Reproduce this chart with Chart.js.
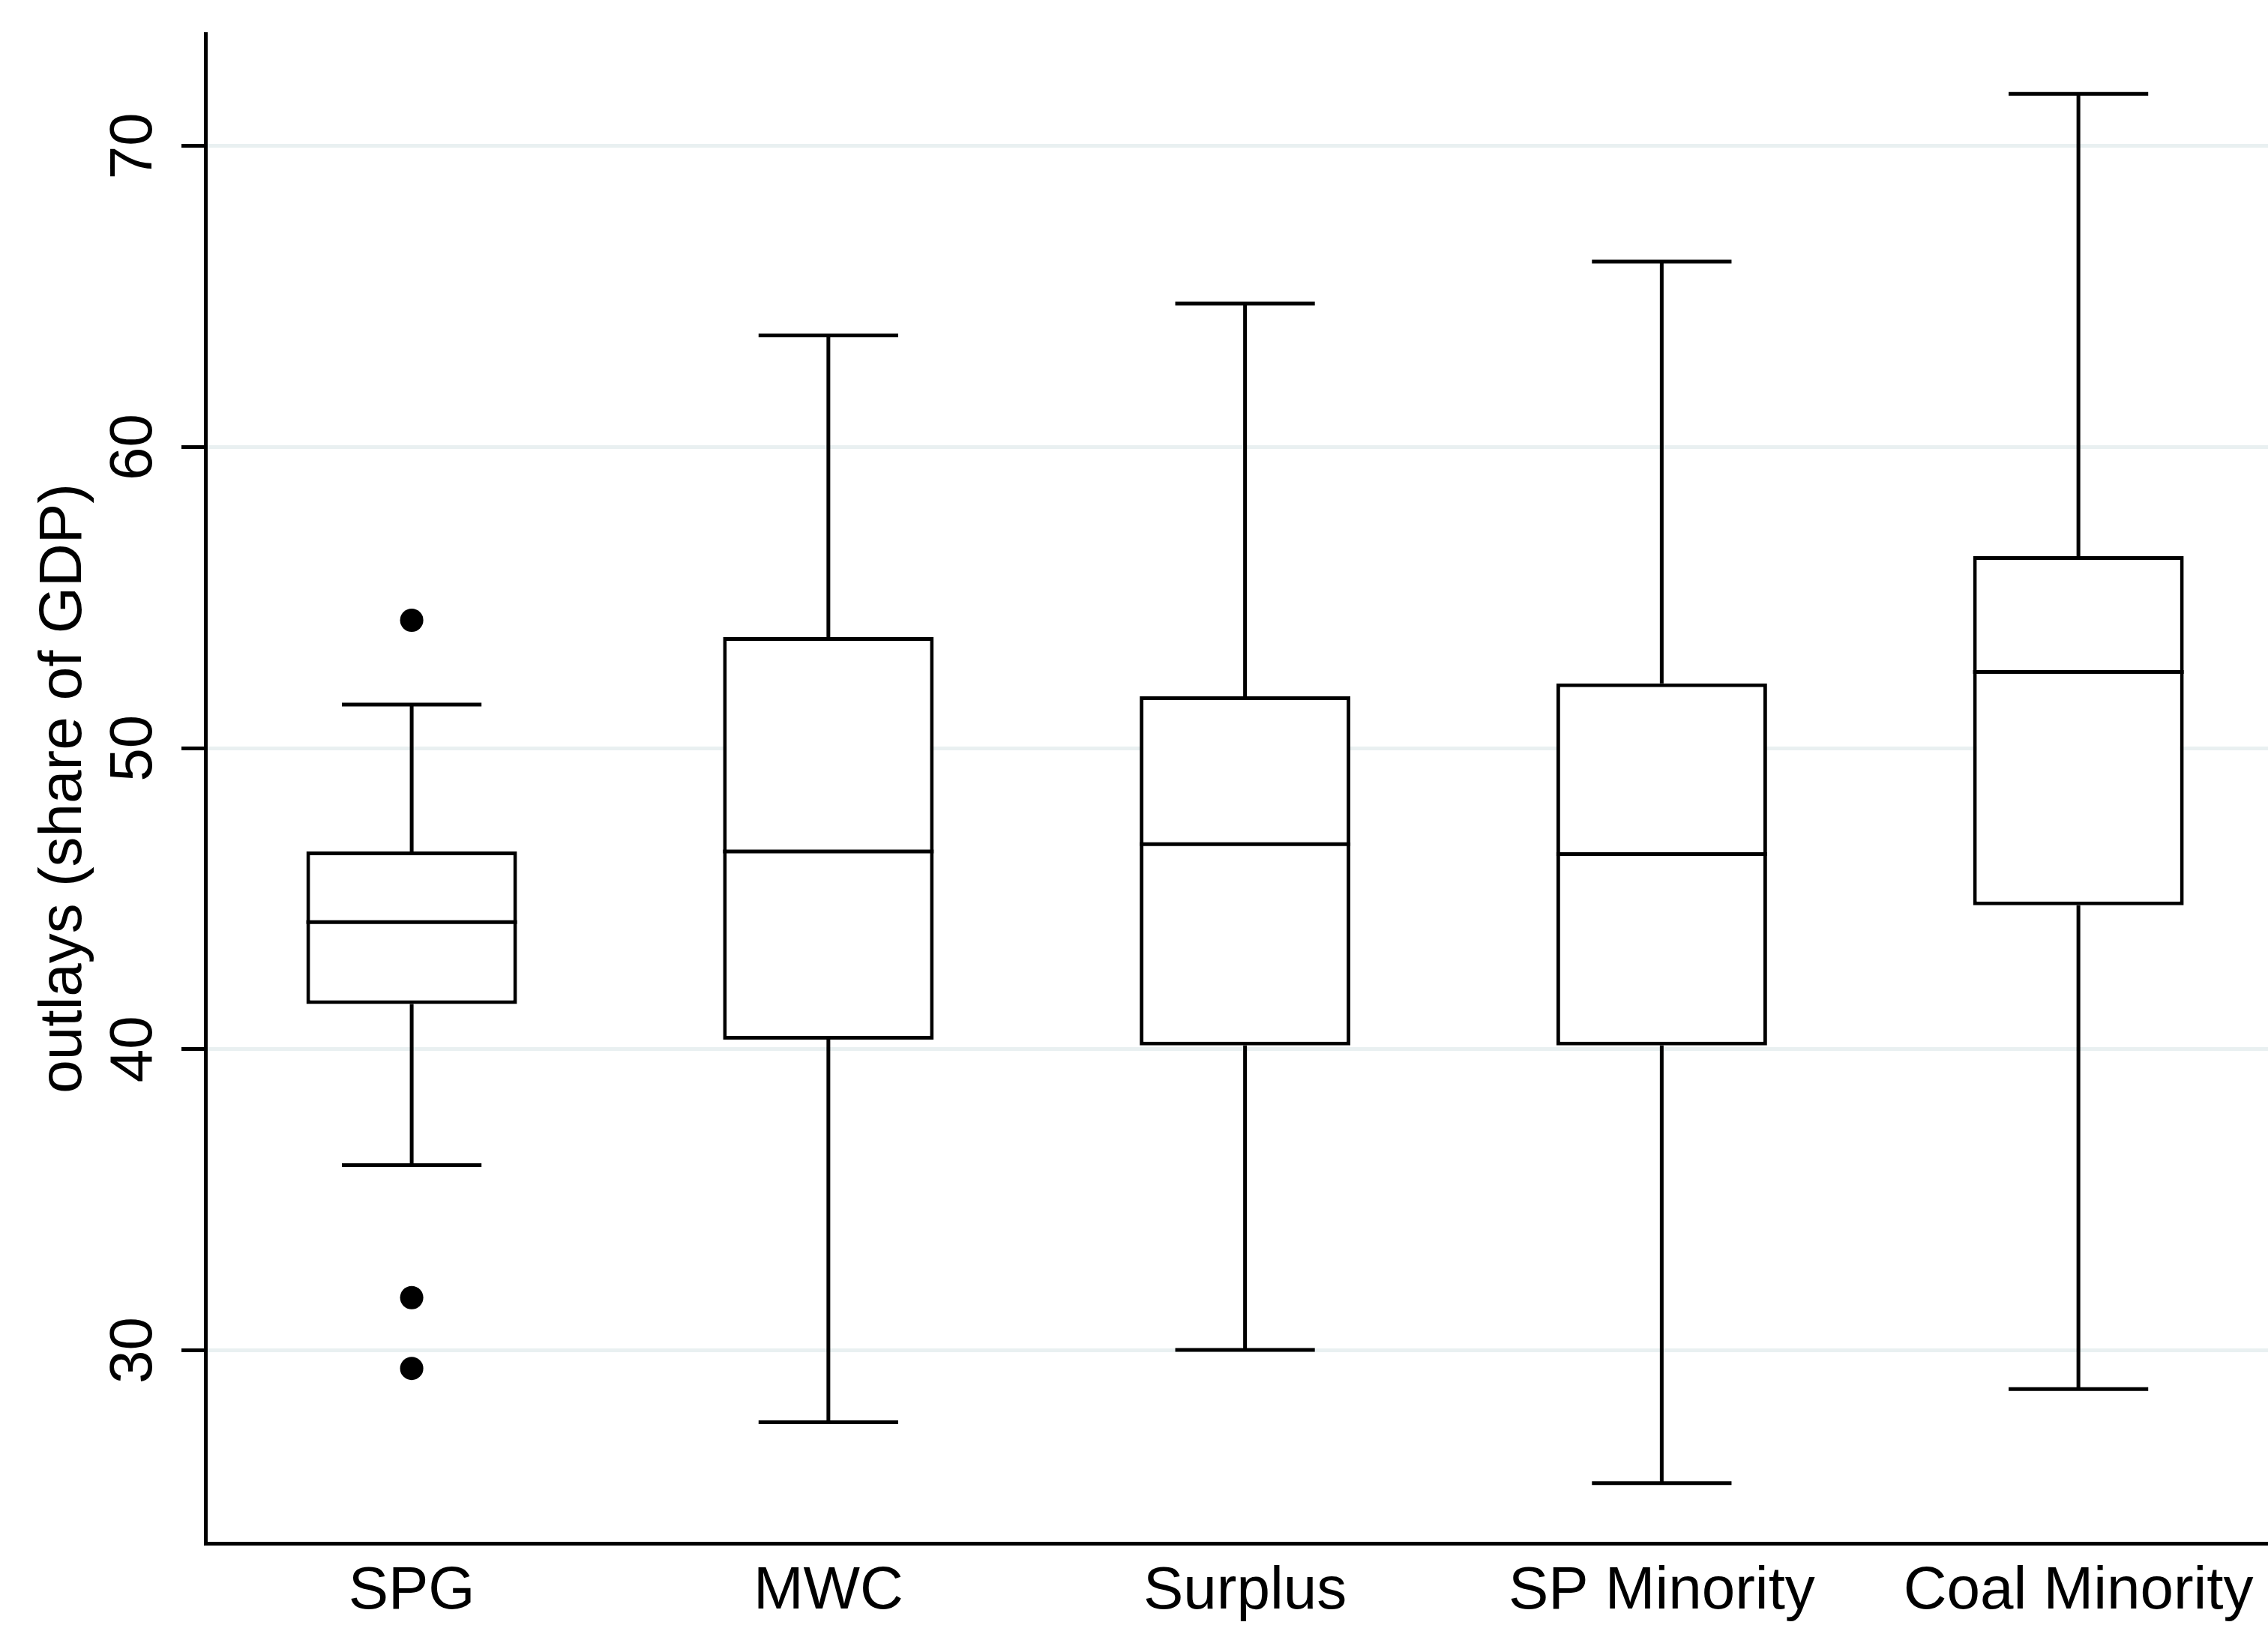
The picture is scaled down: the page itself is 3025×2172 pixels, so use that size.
<!DOCTYPE html>
<html>
<head>
<meta charset="utf-8">
<script src="https://cdn.jsdelivr.net/npm/chart.js@4.4.1/dist/chart.umd.min.js"></script>
<style>
html,body{margin:0;padding:0;background:#fff;overflow:hidden}
canvas{display:block}
</style>
</head>
<body>
<canvas id="c" width="3025" height="2172" style="width:3025px;height:2172px"></canvas>
<script>
// ---- data ----
const categories   = ['SPG', 'MWC', 'Surplus', 'SP Minority', 'Coal Minority'];
const lowerWhisker = [36.15, 27.61, 30.01, 25.59, 28.71];
const q1           = [41.50, 40.32, 40.13, 40.13, 44.78];
const median       = [44.22, 46.57, 46.81, 46.48, 52.53];
const q3           = [46.57, 53.69, 51.72, 52.15, 56.38];
const upperWhisker = [51.45, 63.71, 64.77, 66.16, 71.73];
const outlierGroup = [0, 0, 0];
const outlierValue = [54.25, 31.75, 29.40];
const yTicks       = [30, 40, 50, 60, 70];
const xPositions   = categories.map((_, i) => i + 1);

const FONT = '"Liberation Sans", Arial, Helvetica, sans-serif';
const LINE_W = 5;
const CAP_HALF = 0.1675; // half-width of whisker caps, in category units

const boxPartsPlugin = {
  id: 'boxParts',
  afterDatasetsDraw(chart) {
    const ctx = chart.ctx, xs = chart.scales.x, ys = chart.scales.y;
    const meta = chart.getDatasetMeta(0);
    ctx.save();
    ctx.strokeStyle = '#000';
    ctx.lineWidth = LINE_W;
    ctx.lineCap = 'butt';
    const seg = (x1, y1, x2, y2) => { ctx.beginPath(); ctx.moveTo(x1, y1); ctx.lineTo(x2, y2); ctx.stroke(); };
    categories.forEach((c, i) => {
      const bar = meta.data[i];
      const cx = xs.getPixelForValue(xPositions[i]);
      const half = bar.width / 2;
      const cl = xs.getPixelForValue(xPositions[i] - CAP_HALF);
      const cr = xs.getPixelForValue(xPositions[i] + CAP_HALF);
      const yHi = ys.getPixelForValue(upperWhisker[i]);
      const yLo = ys.getPixelForValue(lowerWhisker[i]);
      const yQ3 = ys.getPixelForValue(q3[i]);
      const yQ1 = ys.getPixelForValue(q1[i]);
      const yMd = ys.getPixelForValue(median[i]);
      seg(cx, yQ3, cx, yHi);
      seg(cx, yQ1, cx, yLo);
      seg(cl, yHi, cr, yHi);
      seg(cl, yLo, cr, yLo);
      seg(cx - half, yMd, cx + half, yMd);
    });
    ctx.restore();
  },
  afterDraw(chart) {
    // y tick labels, rotated to read bottom-to-top
    const ctx = chart.ctx, ys = chart.scales.y;
    ctx.save();
    ctx.fillStyle = '#000';
    ctx.font = '80px ' + FONT;
    ctx.textAlign = 'center';
    ctx.textBaseline = 'alphabetic';
    ys.ticks.forEach(t => {
      const y = ys.getPixelForValue(t.value);
      ctx.save();
      ctx.translate(202, y);
      ctx.rotate(-Math.PI / 2);
      ctx.fillText(String(t.value), 0, 0);
      ctx.restore();
    });
    ctx.restore();
  }
};

Chart.defaults.font.family = FONT;
Chart.defaults.color = '#000';

new Chart(document.getElementById('c'), {
  type: 'bar',
  data: {
    datasets: [
      {
        label: 'box',
        data: xPositions.map((x, i) => ({ x: x, y: [q1[i], q3[i]] })),
        backgroundColor: '#ffffff',
        borderColor: '#000000',
        borderWidth: LINE_W,
        borderSkipped: false,
        categoryPercentage: 1.0,
        barPercentage: 0.5056,
        order: 2
      },
      {
        type: 'scatter',
        label: 'outliers',
        data: outlierValue.map((v, i) => ({ x: xPositions[outlierGroup[i]], y: v })),
        backgroundColor: '#000000',
        borderWidth: 0,
        pointRadius: 15.5,
        pointHoverRadius: 15.5,
        order: 1
      }
    ]
  },
  options: {
    responsive: false,
    animation: false,
    devicePixelRatio: 1,
    layout: { autoPadding: false, padding: { top: 45, left: 0, right: 0, bottom: 0 } },
    plugins: { legend: { display: false }, tooltip: { enabled: false } },
    scales: {
      x: {
        type: 'linear',
        offset: false,
        min: 0.505,
        max: 5.455,
        afterBuildTicks: s => { s.ticks = xPositions.map(v => ({ value: v })); },
        afterFit: s => { s.height = 113; s.paddingLeft = 0; s.paddingRight = 0; },
        ticks: {
          callback: (v, idx) => categories[idx],
          font: { size: 80 },
          color: '#000',
          padding: 17,
          maxRotation: 0,
          minRotation: 0,
          autoSkip: false
        },
        grid: { display: false, drawTicks: false, offset: false },
        border: { display: true, color: '#000', width: LINE_W }
      },
      y: {
        type: 'linear',
        min: 23.59,
        max: 73.73,
        afterBuildTicks: s => { s.ticks = yTicks.map(v => ({ value: v })); },
        afterFit: s => { s.width = 274; },
        ticks: { display: false },
        grid: {
          color: '#e9f0f1',
          lineWidth: 5,
          drawTicks: true,
          tickLength: 32,
          tickColor: '#000',
          tickWidth: LINE_W
        },
        border: { display: true, color: '#000', width: LINE_W },
        title: {
          display: true,
          text: 'outlays (share of GDP)',
          font: { size: 80 },
          color: '#000',
          padding: { top: 38, bottom: 0 }
        }
      }
    }
  },
  plugins: [boxPartsPlugin]
});
</script>
</body>
</html>
